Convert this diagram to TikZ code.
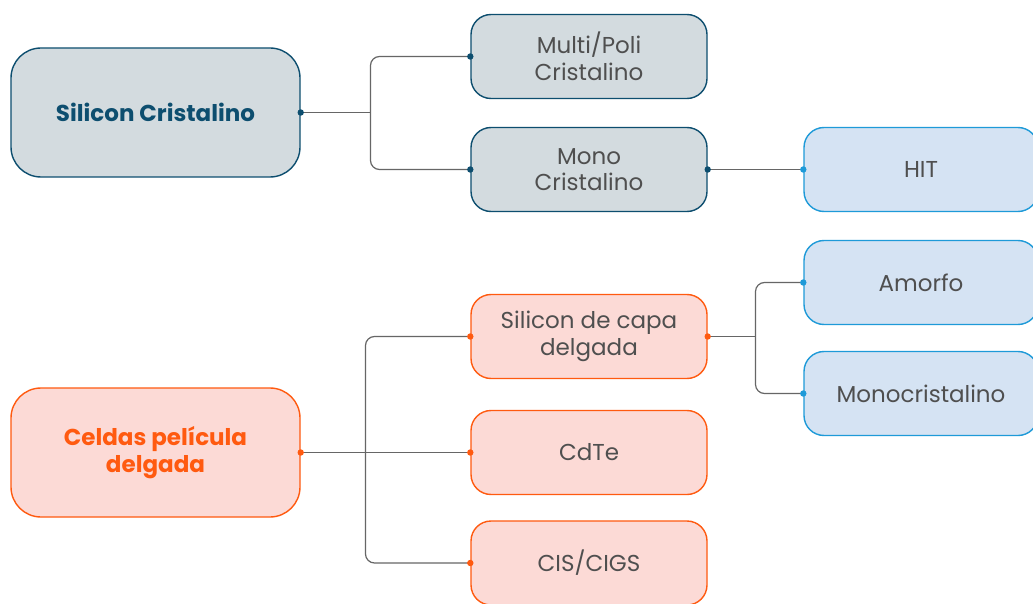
\documentclass[tikz,border=0pt]{standalone}
\usepackage{fontspec}
\setmainfont{Poppins}
\usepackage{tikz}
\definecolor{dkblue}{HTML}{0D4E6F}
\definecolor{grayfill}{HTML}{D3DBDF}
\definecolor{ltblue}{HTML}{1E9AD8}
\definecolor{bluefill}{HTML}{D5E3F3}
\definecolor{orng}{HTML}{FF5A10}
\definecolor{peach}{HTML}{FCDAD6}
\definecolor{txtgray}{HTML}{4F4F4F}
\definecolor{linegray}{HTML}{666666}
\tikzset{
	box/.style = {rounded corners=20pt, align=center, line width=1.4pt,
		minimum width=236pt, minimum height=84pt, inner sep=0pt,
		text=txtgray, font=\fontsize{23}{26.5}\selectfont},
	root_b/.style = {box, draw=dkblue, fill=grayfill, text=dkblue,
		rounded corners=30pt, minimum width=289pt, minimum height=129pt,
		font=\fontsize{23}{26.5}\selectfont\bfseries},
	root_o/.style = {root_b, draw=orng, fill=peach, text=orng},
	kid_b/.style = {box, draw=dkblue, fill=grayfill},
	kid_o/.style = {box, draw=orng, fill=peach},
	leaf_l/.style = {box, draw=ltblue, fill=bluefill, minimum width=234pt},
	link/.style = {draw=linegray, line width=1.2pt, rounded corners=9pt}
}

\begin{document}
\begin{tikzpicture}[x=1pt,y=-1pt]
\clip (0,0) rectangle (1033,604);
\fill[white] (0,0) rectangle (1033,604);
% upper group
\node [root_b] (sc) at (155.5,112.5) {Silicon Cristalino};
\node [kid_b] (mp) at (589,56.5) {Multi/Poli\\Cristalino};
\node [kid_b] (mc) at (589,169.5) {Mono\\Cristalino};
\node [leaf_l] (hit) at (921,169.5) {HIT};
% lower group
\node [root_o] (cp) at (155.5,452.5) {Celdas película\\delgada};
\node [kid_o] (sd) at (589,336.5) {Silicon de capa\\delgada};
\node [kid_o] (cd) at (589,452.5) {CdTe};
\node [kid_o] (ci) at (589,563) {CIS/CIGS};
\node [leaf_l] (am) at (921,282.5) {Amorfo};
\node [leaf_l] (mo) at (921,393.5) {Monocristalino};

\coordinate (j1) at (370.5,112.5);
\coordinate (j2) at (755.5,336.5);
\coordinate (j3) at (365.5,452.5);
\draw [link] (sc.east) -- (j1);
\draw [link] (mp.west) -| (j1);
\draw [link] (mc.west) -| (j1);
\draw [link] (mc.east) -- (hit.west);
\draw [link] (sd.east) -- (j2);
\draw [link] (am.west) -| (j2);
\draw [link] (mo.west) -| (j2);
\draw [link] (cp.east) -- (cd.west);
\draw [link] (sd.west) -| (j3);
\draw [link] (ci.west) -| (j3);

% dots
\foreach \p in {sc.east,mp.west,mc.west,mc.east}
	\fill [dkblue] (\p) circle (3.2);
\foreach \p in {cp.east,sd.west,sd.east,cd.west,ci.west}
	\fill [orng] (\p) circle (3.2);
\foreach \p in {hit.west,am.west,mo.west}
	\fill [ltblue] (\p) circle (3.2);
\end{tikzpicture}
\end{document}
